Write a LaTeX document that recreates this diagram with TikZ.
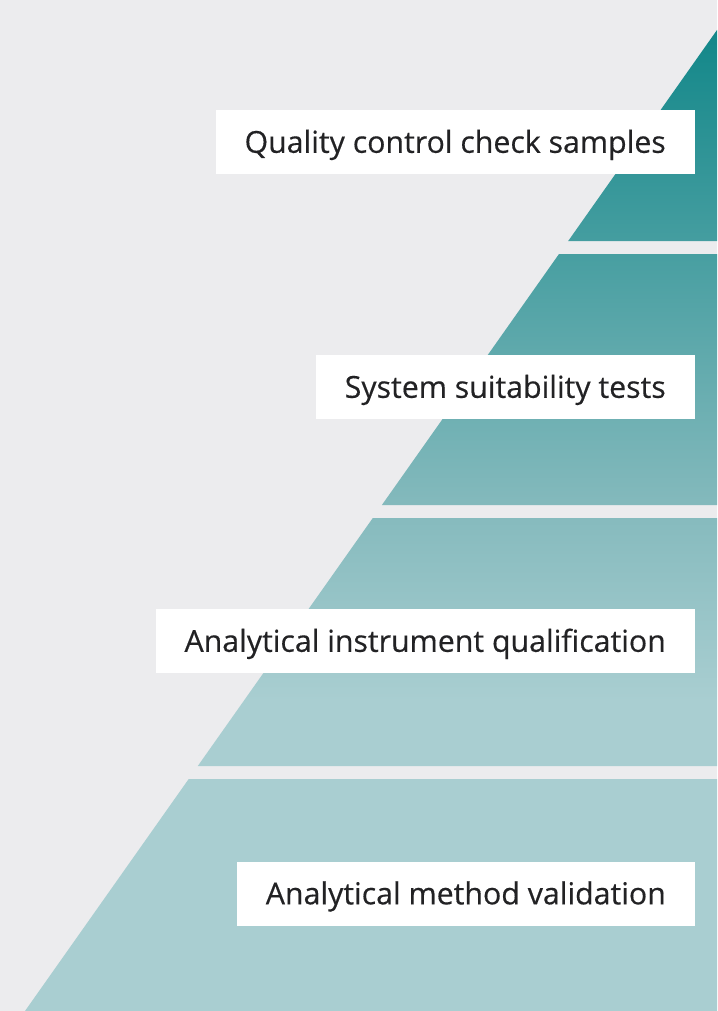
\documentclass[tikz,border=0pt]{standalone}
\usepackage{fontspec}
\setmainfont{Open Sans}[FakeBold=0.4]
\usetikzlibrary{positioning}
\definecolor{mgrey}{HTML}{ECECEE}
\definecolor{mink}{HTML}{222224}
\definecolor{mtealdark}{HTML}{128789}
\definecolor{mtealmid}{HTML}{83B9BC}
\definecolor{mteallight}{HTML}{A9CED1}
\pgfdeclareverticalshading{pyramid}{100bp}{color(0bp)=(mteallight); color(25bp)=(mteallight);
  color(40.8bp)=(mteallight); color(51bp)=(mtealmid); color(75bp)=(mtealdark); color(100bp)=(mtealdark)}
\tikzset{level/.style = {fill=white, anchor=east, inner xsep=29pt, inner ysep=0pt,
                         text height=21.6pt, text depth=0pt,
                         minimum height=64pt, text=mink, font=\fontsize{30.3}{32}\selectfont}}

\begin{document}
\begin{tikzpicture}[x=1pt, y=-1pt]
    \useasboundingbox (0, 0) rectangle (717, 1011);
    \fill[mgrey] (0, 0) rectangle (717, 1011);

    % four bands of the pyramid
    \shade[shading=pyramid]
        (717, 30) -- (717, 241) -- (568.2, 241) -- cycle
        (559.0, 254) -- (717, 254) -- (717, 505) -- (381.9, 505) -- cycle
        (372.8, 518) -- (717, 518) -- (717, 766) -- (197.8, 766) -- cycle
        (188.7, 779) -- (717, 779) -- (717, 1011) -- (25, 1011) -- cycle;

    \node[level] (qc)   at (695, 142)   {Quality control check samples};
    \node[level] (sst)  at (695, 387)   {System suitability tests};
    \node[level] (aiq)  at (695, 641)   {Analytical instrument qualification};
    \node[level] (amv)  at (695, 893.5) {Analytical method validation};
\end{tikzpicture}
\end{document}
